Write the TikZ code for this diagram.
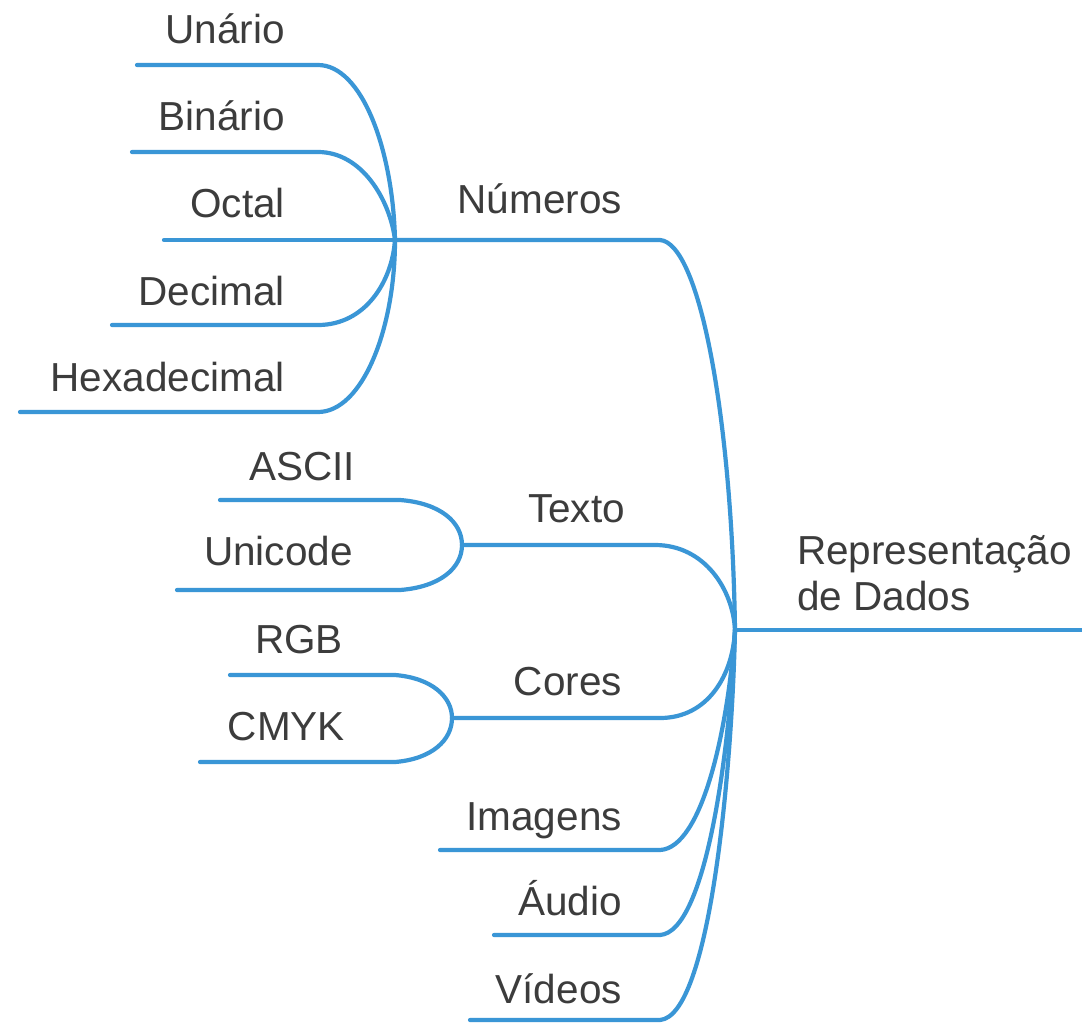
\documentclass[tikz,border=0pt]{standalone}
\usepackage{fontspec}
\setmainfont{Liberation Sans}
\definecolor{linkblue}{HTML}{3A96D6}
\definecolor{txtgray}{HTML}{3C3C3C}
\begin{document}
\begin{tikzpicture}[x=1pt,y=-1pt,
  lbl/.style={inner sep=0pt, text=txtgray, font=\fontsize{40.5}{46}\selectfont, anchor=base east},
  link/.style={draw=linkblue, line width=4.2pt, line cap=round, line join=round}]
\useasboundingbox (0,0) rectangle (1082,1026);
\fill[white] (0,0) rectangle (1082,1026);

% hubs
\coordinate (hub) at (735,630);
\coordinate (numhub) at (395,240);
\coordinate (txthub) at (462,545);
\coordinate (corhub) at (452,718);
\coordinate (rootend) at (1082,630);

% labels
\node[lbl, anchor=north west, align=left] (root) at (797,535) {Representação\\de Dados};
\node[lbl] (numeros) at (622,213) {Números};
\node[lbl] (texto) at (625,522) {Texto};
\node[lbl] (cores) at (622,695) {Cores};
\node[lbl] (imagens) at (622,830) {Imagens};
\node[lbl] (audio) at (622,915) {Áudio};
\node[lbl] (videos) at (622,1003) {Vídeos};
\node[lbl] (unario) at (285,43) {Unário};
\node[lbl] (binario) at (285,130) {Binário};
\node[lbl] (octal) at (285,217) {Octal};
\node[lbl] (decimal) at (285,305) {Decimal};
\node[lbl] (hexa) at (285,391) {Hexadecimal};
\node[lbl] (ascii) at (355,480) {ASCII};
\node[lbl] (unicode) at (353,565) {Unicode};
\node[lbl] (rgb) at (343,653) {RGB};
\node[lbl] (cmyk) at (345,740) {CMYK};

% line endpoints
\coordinate (numL) at (660,240);
\coordinate (txtR) at (655,545);
\coordinate (corR) at (660,718);
\coordinate (imgL) at (440,850);
\coordinate (imgR) at (660,850);
\coordinate (audL) at (494,935);
\coordinate (audR) at (660,935);
\coordinate (vidL) at (470,1020);
\coordinate (vidR) at (660,1020);
\coordinate (unaL) at (137,65);
\coordinate (unaR) at (318,65);
\coordinate (binL) at (132,152);
\coordinate (binR) at (318,152);
\coordinate (octL) at (164,240);
\coordinate (decL) at (112,325);
\coordinate (decR) at (318,325);
\coordinate (hexL) at (20,412);
\coordinate (hexR) at (318,412);
\coordinate (ascL) at (220,500);
\coordinate (ascR) at (400,500);
\coordinate (uniL) at (177,590);
\coordinate (uniR) at (400,590);
\coordinate (rgbL) at (230,675);
\coordinate (rgbR) at (395,675);
\coordinate (cmyL) at (200,762);
\coordinate (cmyR) at (395,762);

% root
\draw[link] (hub) -- (rootend);

% main branches
\draw[link] (numhub) -- (numL) .. controls (700,243) and (732,420) .. (hub);
\draw[link] (txthub) -- (txtR) .. controls (705,545) and (733,590) .. (hub);
\draw[link] (corhub) -- (corR) .. controls (708,718) and (733,675) .. (hub);
\draw[link] (imgL) -- (imgR) .. controls (702,848) and (728,730) .. (hub);
\draw[link] (audL) -- (audR) .. controls (706,932) and (730,750) .. (hub);
\draw[link] (vidL) -- (vidR) .. controls (710,1016) and (732,770) .. (hub);

% Numeros children
\draw[link] (unaL) -- (unaR) .. controls (362,65) and (393,150) .. (numhub);
\draw[link] (binL) -- (binR) .. controls (362,152) and (390,200) .. (numhub);
\draw[link] (octL) -- (numhub);
\draw[link] (decL) -- (decR) .. controls (365,325) and (392,282) .. (numhub);
\draw[link] (hexL) -- (hexR) .. controls (362,412) and (395,330) .. (numhub);

% Texto children
\draw[link] (ascL) -- (ascR) .. controls (440,503) and (462,522) .. (txthub);
\draw[link] (uniL) -- (uniR) .. controls (440,587) and (462,568) .. (txthub);

% Cores children
\draw[link] (rgbL) -- (rgbR) .. controls (432,678) and (452,697) .. (corhub);
\draw[link] (cmyL) -- (cmyR) .. controls (432,759) and (452,740) .. (corhub);
\end{tikzpicture}
\end{document}
